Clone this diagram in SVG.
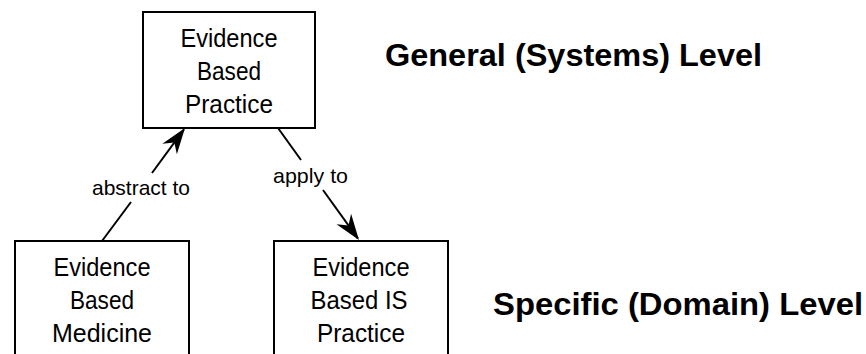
<svg xmlns="http://www.w3.org/2000/svg" width="866" height="354" viewBox="0 0 866 354">
<style>
.box{fill:#fff;stroke:#000;stroke-width:2}
.t{font-family:"Liberation Sans",Arial,sans-serif;font-size:26px;text-anchor:middle;fill:#000}
.lbl{font-family:"Liberation Sans",Arial,sans-serif;font-size:21px;fill:#000}
.h{font-family:"Liberation Sans",Arial,sans-serif;font-size:32px;font-weight:bold;fill:#000}
.c{stroke:#000;stroke-width:2;fill:none}
</style>
<defs>
<marker id="ah" markerUnits="userSpaceOnUse" markerWidth="30" markerHeight="20" viewBox="-28 -10 30 20" refX="-2" refY="0" orient="auto" overflow="visible">
<path d="M0,0 L-26,-9 L-18,0 L-26,9 Z" fill="#000"/>
</marker>
</defs>
<rect width="866" height="354" fill="#fff"/>
<g id="ebp">
<rect class="box" x="143" y="12" width="172" height="116"/>
<text class="t" x="229" y="47" textLength="97" lengthAdjust="spacingAndGlyphs">Evidence</text>
<text class="t" x="229" y="80" textLength="64" lengthAdjust="spacingAndGlyphs">Based</text>
<text class="t" x="229" y="113" textLength="88" lengthAdjust="spacingAndGlyphs">Practice</text>
</g>
<g id="ebm">
<rect class="box" x="15" y="241" width="174" height="116"/>
<text class="t" x="102" y="276" textLength="97" lengthAdjust="spacingAndGlyphs">Evidence</text>
<text class="t" x="102" y="309" textLength="64" lengthAdjust="spacingAndGlyphs">Based</text>
<text class="t" x="102" y="342" textLength="100" lengthAdjust="spacingAndGlyphs">Medicine</text>
</g>
<g id="ebisp">
<rect class="box" x="274" y="241" width="174" height="116"/>
<text class="t" x="361" y="276" textLength="97" lengthAdjust="spacingAndGlyphs">Evidence</text>
<text class="t" x="359" y="309" textLength="97" lengthAdjust="spacingAndGlyphs">Based IS</text>
<text class="t" x="361" y="342" textLength="88" lengthAdjust="spacingAndGlyphs">Practice</text>
</g>
<g id="general-level">
<text class="h" x="385" y="66" textLength="377" lengthAdjust="spacingAndGlyphs">General (Systems) Level</text>
</g>
<g id="specific-level">
<text class="h" x="493" y="315" textLength="370" lengthAdjust="spacingAndGlyphs">Specific (Domain) Level</text>
</g>
<g id="connectors">
<line class="c" x1="102" y1="241" x2="131" y2="202"/>
<line class="c" x1="152" y1="173" x2="183.8" y2="129.6" marker-end="url(#ah)"/>
<text class="lbl" x="92" y="195" textLength="98" lengthAdjust="spacingAndGlyphs">abstract to</text>
<line class="c" x1="278" y1="128" x2="301" y2="160"/>
<line class="c" x1="323" y1="190" x2="357.8" y2="238.4" marker-end="url(#ah)"/>
<text class="lbl" x="273" y="183" textLength="75" lengthAdjust="spacingAndGlyphs">apply to</text>
</g>
</svg>
